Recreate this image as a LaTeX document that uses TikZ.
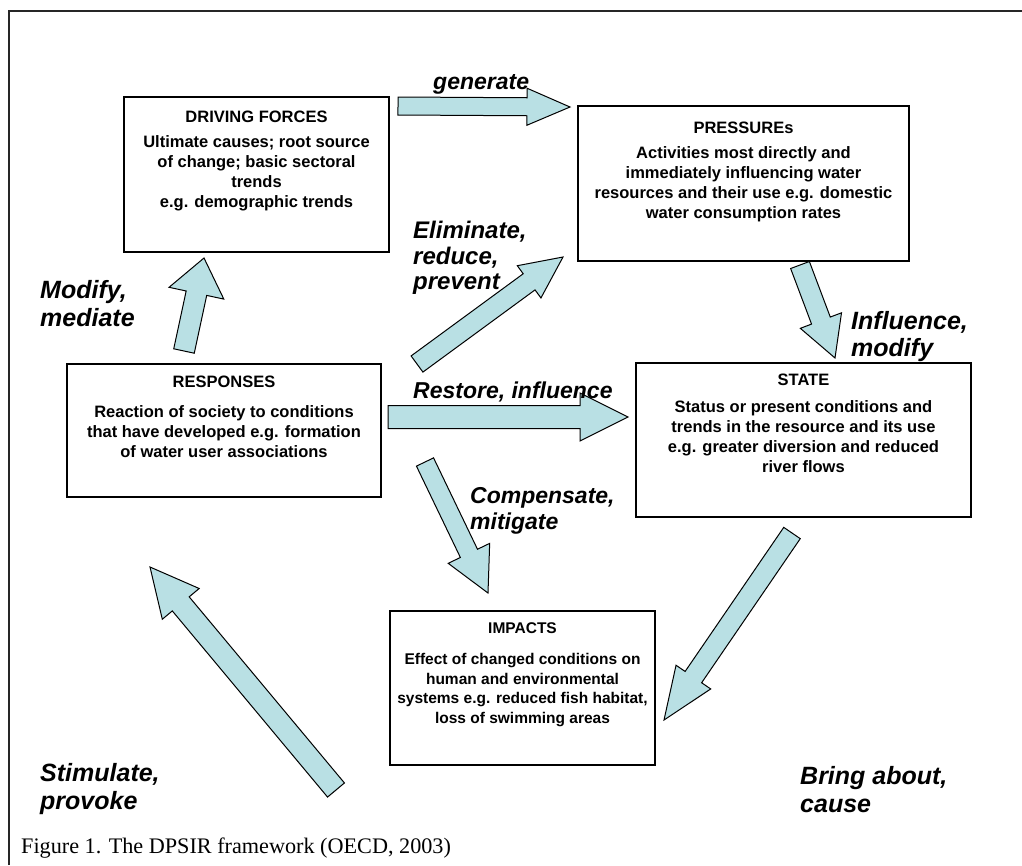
\documentclass[tikz,border=0pt]{standalone}
\usepackage{fontspec}
\setmainfont{Liberation Sans}
\newfontfamily\capserif{Liberation Serif}
\usetikzlibrary{calc}
\definecolor{arrowfill}{RGB}{185,224,228}

\tikzset{
  box/.style={draw=black, line width=1.4pt, fill=white, inner sep=0pt},
  boxtext/.style={anchor=north, align=center, inner sep=0pt,
    font=\fontsize{16.5}{20}\selectfont\bfseries},
  flowlabel/.style={anchor=north west, align=left, inner sep=0pt,
    font=\fontsize{23}{26}\selectfont\bfseries\itshape},
  biglabel/.style={flowlabel, font=\fontsize{25}{28}\selectfont\bfseries\itshape},
  barrow/.style={draw=black, line width=1pt, fill=arrowfill, line join=miter},
}

% block arrow: tail, tip, shaft half width, head half width, head length
\newcommand{\blockarrow}[5]{%
  \coordinate (bhead) at ($(#2)!#5!(#1)$);
  \draw[barrow] ($(#1)!#3!90:(#2)$) -- ($(bhead)!#3!-90:(#1)$)
    -- ($(bhead)!#4!-90:(#1)$) -- (#2) -- ($(bhead)!#4!90:(#1)$)
    -- ($(bhead)!#3!90:(#1)$) -- ($(#1)!#3!-90:(#2)$) -- cycle;
}

\begin{document}
\begin{tikzpicture}[x=1pt, y=-1pt]
\useasboundingbox (0,0) rectangle (1022,865);

% outer frame (only top and left edges fall on the page)
\draw[line width=2pt, black!85] (9,865) -- (9,11) -- (1022,11);

% the five boxes
\node[box, minimum width=265pt, minimum height=155pt] (df) at (256.5,174.5) {};
\node[box, minimum width=331pt, minimum height=155pt] (pr) at (743.5,183.5) {};
\node[box, minimum width=314pt, minimum height=133pt] (re) at (224,430.5) {};
\node[box, minimum width=335pt, minimum height=154pt] (st) at (803.5,440) {};
\node[box, minimum width=265pt, minimum height=154pt] (im) at (522.5,688) {};

\node[boxtext] (df-t) at ($(df.north)+(0,14)$) {DRIVING FORCES\\[5pt]
  Ultimate causes; root source\\ of change; basic sectoral\\ trends\\ e.g. demographic trends};
\node[boxtext] (pr-t) at ($(pr.north)+(0,16)$) {PRESSUREs\\[5pt]
  Activities most directly and\\ immediately influencing water\\
  resources and their use e.g. domestic\\ water consumption rates};
\node[boxtext] (re-t) at ($(re.north)+(0,12)$) {RESPONSES\\[10pt]
  Reaction of society to conditions\\ that have developed e.g. formation\\
  of water user associations};
\node[boxtext] (st-t) at ($(st.north)+(0,11)$) {STATE\\[7pt]
  Status or present conditions and\\ trends in the resource and its use\\
  e.g. greater diversion and reduced\\ river flows};
\node[boxtext, font=\fontsize{15.5}{19.5}\selectfont\bfseries] (im-t)
  at ($(im.north)+(0,12)$) {IMPACTS\\[12pt]
  Effect of changed conditions on\\ human and environmental\\
  systems e.g. reduced fish habitat,\\ loss of swimming areas};

% arrow end points
\coordinate (g1) at (398,106);  \coordinate (g2) at (570,107);
\coordinate (i1) at (800,265);  \coordinate (i2) at (835,358);
\coordinate (m1) at (184,351);  \coordinate (m2) at (204,258);
\coordinate (e1) at (417,364);  \coordinate (e2) at (563,257);
\coordinate (r1) at (388,417);  \coordinate (r2) at (628,417);
\coordinate (c1) at (425,462);  \coordinate (c2) at (488,593);
\coordinate (b1) at (792,533);  \coordinate (b2) at (664,720);
\coordinate (s1) at (336,790);  \coordinate (s2) at (150,567);

\blockarrow{g1}{g2}{9pt}{18.5pt}{43pt}
\blockarrow{i1}{i2}{10pt}{22pt}{40pt}
\blockarrow{m1}{m2}{10.5pt}{28pt}{36pt}
\blockarrow{e1}{e2}{10pt}{20pt}{42pt}
\blockarrow{r1}{r2}{11.5pt}{24pt}{48pt}
\blockarrow{c1}{c2}{9.5pt}{23pt}{44pt}
\blockarrow{b1}{b2}{10pt}{21pt}{52pt}
\blockarrow{s1}{s2}{11pt}{24pt}{48pt}

% arrow labels
\node[flowlabel] (l-gen) at (433,74) {generate};
\node[flowlabel, font=\fontsize{24}{25.5}\selectfont\bfseries\itshape]
  (l-eli) at (413,221) {Eliminate,\\ reduce,\\ prevent};
\node[biglabel] (l-mod) at (40,280) {Modify,\\ mediate};
\node[biglabel, font=\fontsize{25}{27}\selectfont\bfseries\itshape]
  (l-inf) at (851,311) {Influence,\\ modify};
\node[flowlabel] (l-res) at (413,382) {Restore, influence};
\node[flowlabel] (l-com) at (470,487) {Compensate,\\ mitigate};
\node[biglabel] (l-bri) at (800,766) {Bring about,\\ cause};
\node[biglabel] (l-sti) at (40,763) {Stimulate,\\ provoke};

% caption
\node[anchor=base west, inner sep=0pt, font=\capserif\fontsize{22.2}{27}\selectfont]
  (cap) at (21,853) {Figure 1. The DPSIR framework (OECD, 2003)};
\end{tikzpicture}
\end{document}
